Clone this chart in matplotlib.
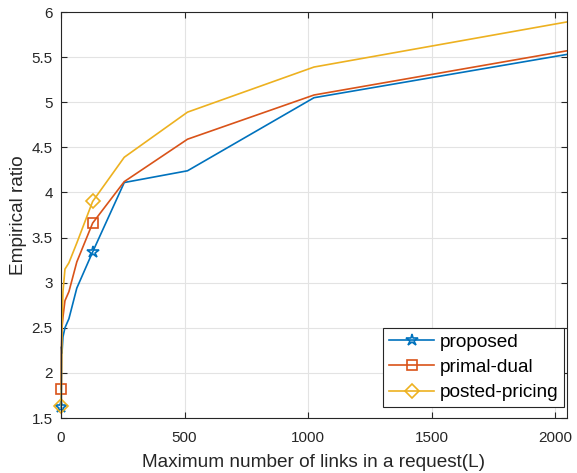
import matplotlib
matplotlib.use("Agg")
import matplotlib.pyplot as plt

L = [1, 2, 4, 8, 16, 32, 64, 128, 256, 512, 1024, 2048]
proposed = [1.62, 2.29, 2.22, 2.40, 2.50, 2.60, 2.94, 3.34, 4.11, 4.24, 5.05, 5.53]
primal_dual = [1.82, 2.30, 2.50, 2.62, 2.80, 2.90, 3.23, 3.66, 4.12, 4.59, 5.08, 5.57]
posted_pricing = [1.63, 2.00, 2.50, 2.90, 3.15, 3.22, 3.44, 3.90, 4.39, 4.89, 5.39, 5.89]
xticks = [0, 500, 1000, 1500, 2000]
yticks = [1.5, 2, 2.5, 3, 3.5, 4, 4.5, 5, 5.5, 6]

plt.rcParams['font.family'] = ['Liberation Sans', 'DejaVu Sans']

fig = plt.figure(figsize=(5.77, 4.73), dpi=100)
ax = fig.add_axes([61/577, 1 - 418/473, (567-61)/577, (418-12)/473])

ax.plot(L, proposed, color='#0072BD', lw=1.2, marker='*', markevery=[0, 7],
        ms=9, mfc='none', mec='#0072BD', mew=1.2, label='proposed', clip_on=False)
ax.plot(L, primal_dual, color='#D95319', lw=1.2, marker='s', markevery=[0, 7],
        ms=7, mfc='none', mec='#D95319', mew=1.2, label='primal-dual', clip_on=False)
ax.plot(L, posted_pricing, color='#EDB120', lw=1.2, marker='D', markevery=[0, 7],
        ms=7, mfc='none', mec='#EDB120', mew=1.2, label='posted-pricing', clip_on=False)

ax.set_xlim(0, 2048)
ax.set_ylim(1.5, 6)
ax.set_xticks(xticks)
ax.set_yticks(yticks)
ax.set_yticklabels(['1.5', '2', '2.5', '3', '3.5', '4', '4.5', '5', '5.5', '6'])
ax.grid(True, color='#e3e3e3', lw=0.8)
ax.set_axisbelow(True)
ax.tick_params(direction='in', top=True, right=True, labelsize=11, colors='#262626',
               length=4, width=0.8)
ax.tick_params(axis='x', pad=9.5)
ax.tick_params(axis='y', pad=6)
for s in ax.spines.values():
    s.set_color('#262626')
    s.set_linewidth(0.8)
ax.set_xlabel('Maximum number of links in a request(L)', fontsize=13.7, color='#262626',
              labelpad=6)
ax.set_ylabel('Empirical ratio', fontsize=13.7, color='#262626', labelpad=3)

leg = ax.legend(loc='lower right', fontsize=13.7, fancybox=False, edgecolor='#262626',
                framealpha=1, handlelength=2.4, handletextpad=0.3, borderpad=0.3,
                labelspacing=0.42, borderaxespad=0,
                bbox_to_anchor=(0.995, 0.027))
leg.get_frame().set_linewidth(0.8)

fig.savefig('out.png', dpi=100)
